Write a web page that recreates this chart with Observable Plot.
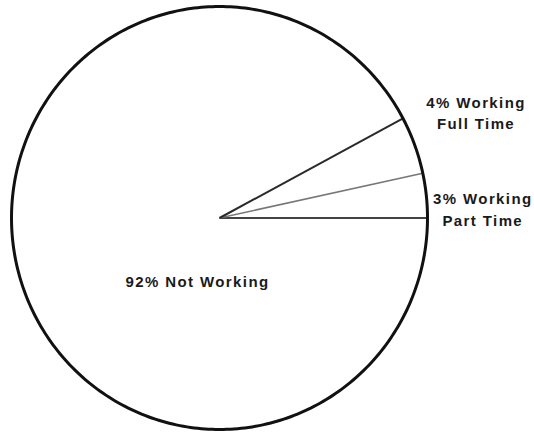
<!DOCTYPE html>
<html>
<head>
<meta charset="utf-8">
<script src="https://cdn.jsdelivr.net/npm/d3@7"></script>
<script src="https://cdn.jsdelivr.net/npm/@observablehq/plot@0.6"></script>
<style>
  html, body { margin: 0; padding: 0; background: #fff; }
  #chart svg { display: block; }
</style>
</head>
<body>
<div id="chart"></div>
<script>
// ---- data ----
const categories = ["Working Part Time", "Working Full Time", "Not Working"];
const shares = [3.4, 4.4, 92.2];            // drawn slice sizes (percent)
const labels = ["3% Working\nPart Time", "4% Working\nFull Time", "92% Not Working"];

// ---- pie geometry (angles counter-clockwise from 3 o'clock) ----
const total = d3.sum(shares);
let acc = 0;
const slices = categories.map((c, i) => {
  const a0 = acc / total * 2 * Math.PI;
  acc += shares[i];
  const a1 = acc / total * 2 * Math.PI;
  return {category: c, label: labels[i], a0, a1, mid: (a0 + a1) / 2};
});

// boundaries between slices (start of each slice)
const spokes = slices.map((s, i) => ({
  x: Math.cos(s.a0), y: Math.sin(s.a0), i
}));

// outline of the pie
const outline = d3.range(0, 361).map(t => ({
  x: Math.cos(t * Math.PI / 180), y: Math.sin(t * Math.PI / 180)
}));

// label placement (layout)
const labelLayout = [
  {r: 1.0, useEnd: true, dx: 60, dy: 35, anchor: "middle"},
  {r: 1.0, useEnd: true, dx: 73, dy: -7, anchor: "middle"},
  {r: 0.0, useEnd: false, dx: -22, dy: 62, anchor: "middle"}
];
const labelRows = slices.map((s, i) => {
  const L = labelLayout[i];
  const a = L.useEnd ? s.a1 : s.mid;
  return {...s, x: L.r * Math.cos(a), y: L.r * Math.sin(a), L};
});

const fontStyle = "font-family: 'Liberation Sans', Arial, Helvetica, sans-serif; font-weight: bold; letter-spacing: 1.4px;";

const textMark = (row) => Plot.text([row], {
  x: "x", y: "y", text: "label",
  dx: row.L.dx, dy: row.L.dy,
  textAnchor: row.L.anchor,
  lineHeight: 1.45,
  fontSize: 15,
  fontWeight: "bold",
  fill: "#1a1a1a"
});

const chart = Plot.plot({
  width: 534,
  height: 434,
  marginLeft: 11,
  marginRight: 107,
  marginTop: 6,
  marginBottom: 5,
  x: {domain: [-1, 1], axis: null},
  y: {domain: [-1, 1], axis: null},
  style: {background: "#fff", fontFamily: "'Liberation Sans', Arial, sans-serif"},
  marks: [
    Plot.link(spokes, {
      x1: 0, y1: 0, x2: "x", y2: "y",
      stroke: d => d.i,
      strokeWidth: d => d.i === 1 ? 1.5 : 2
    }),
    Plot.line(outline, {x: "x", y: "y", stroke: "#111", strokeWidth: 3}),
    ...labelRows.map(textMark)
  ],
  color: {type: "ordinal", domain: [0, 1, 2], range: ["#444", "#777", "#2a2a2a"]}
});

chart.querySelectorAll("text").forEach(t => t.setAttribute("style", (t.getAttribute("style") || "") + fontStyle));
document.getElementById("chart").appendChild(chart);
</script>
</body>
</html>
